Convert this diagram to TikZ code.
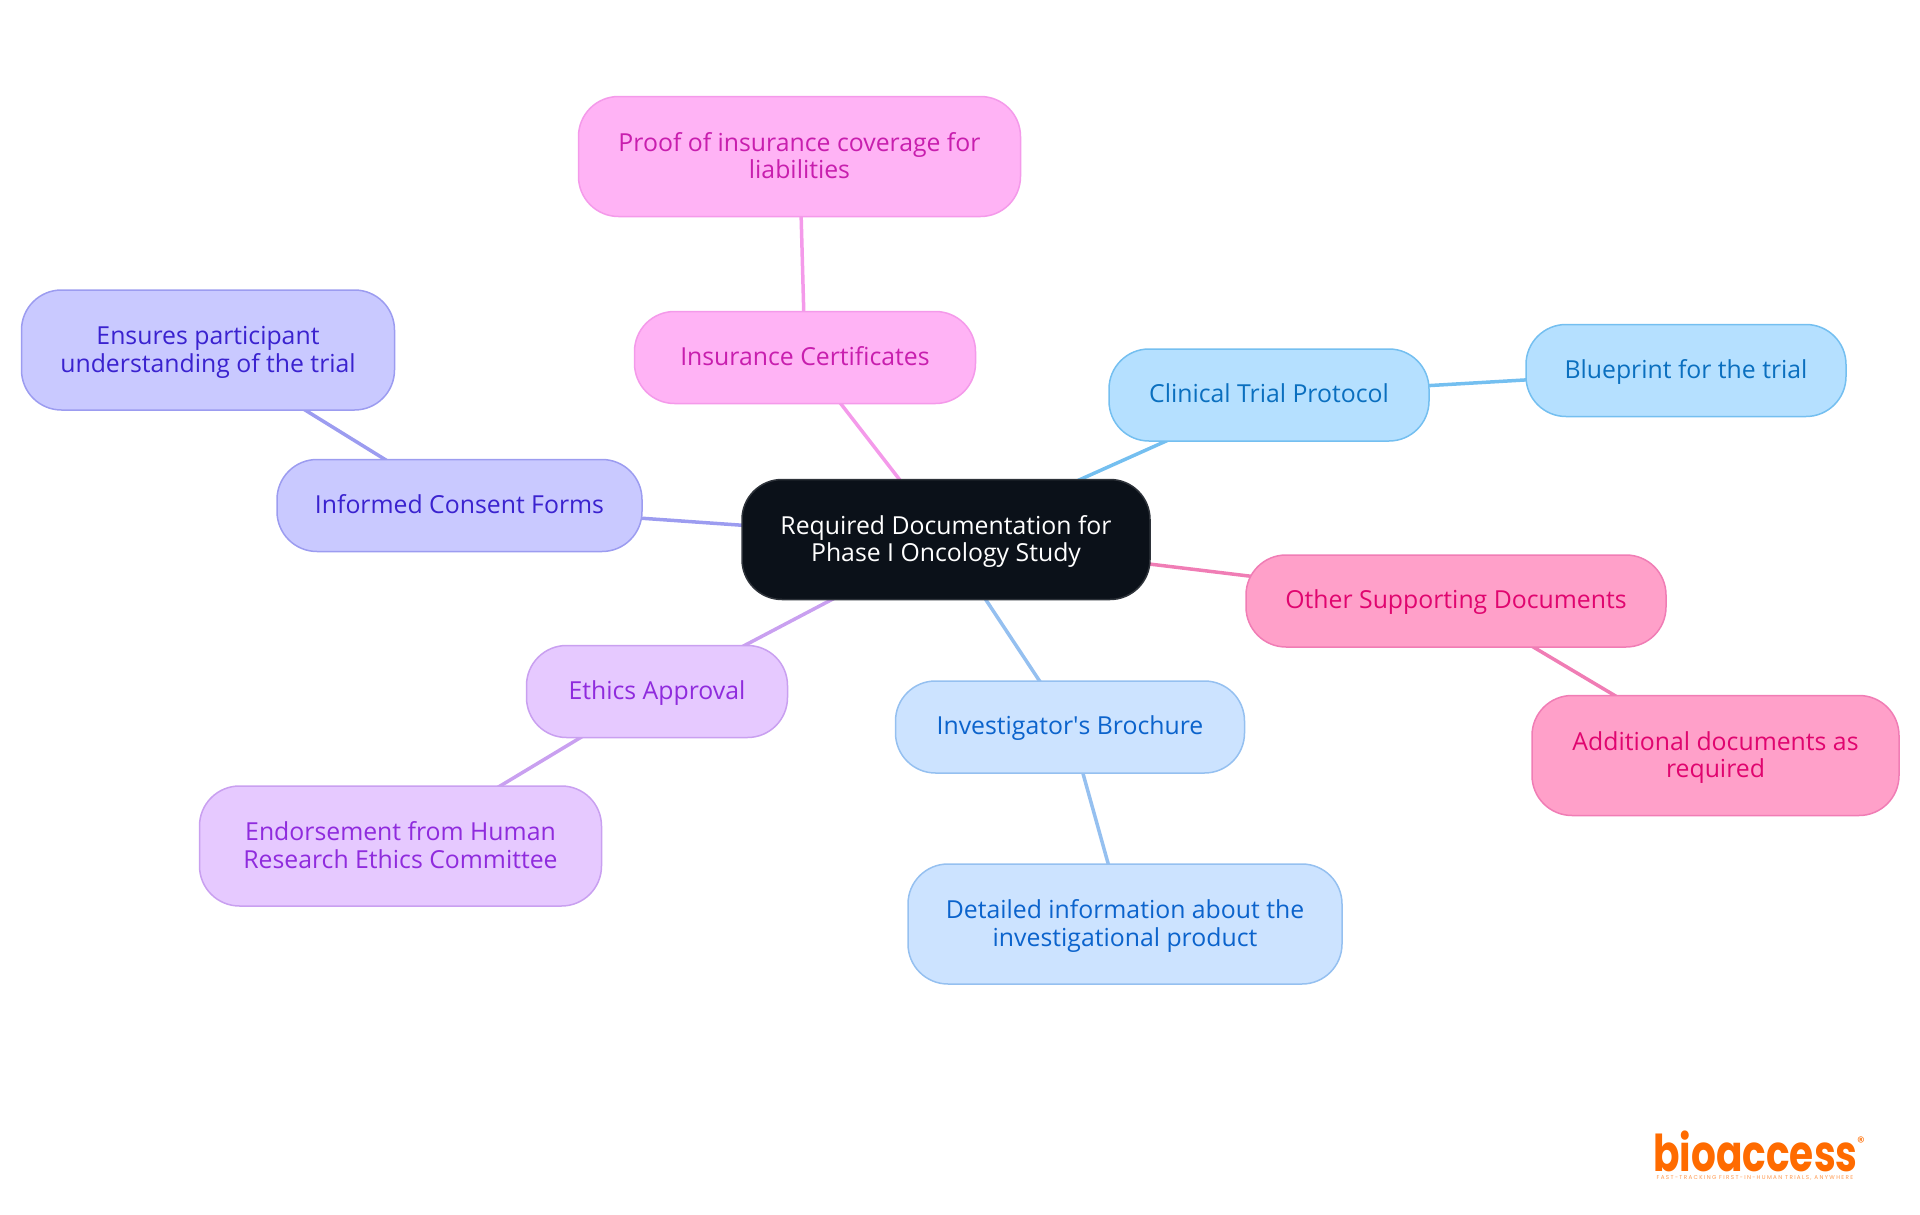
\documentclass[tikz,border=0pt]{standalone}
\usepackage{fontspec}
\setmainfont{Open Sans}
\newfontfamily\logofont{Poppins}
\newfontfamily\tagfont[LetterSpace=24]{Poppins}
\usetikzlibrary{backgrounds}
\definecolor{rootfill}{HTML}{0B1119}
\definecolor{rootline}{HTML}{2E333A}
\definecolor{insfill}{HTML}{FFB3F5}
\definecolor{insline}{HTML}{F49AEA}
\definecolor{instext}{HTML}{C81EAE}
\definecolor{proFill}{HTML}{B5E0FF}
\definecolor{proline}{HTML}{74BFF0}
\definecolor{protext}{HTML}{0A6FBF}
\definecolor{conFill}{HTML}{C9C9FF}
\definecolor{conline}{HTML}{9C9CF0}
\definecolor{context}{HTML}{3A22CF}
\definecolor{ethFill}{HTML}{E6C9FF}
\definecolor{ethline}{HTML}{C9A0F0}
\definecolor{ethtext}{HTML}{8F2BDD}
\definecolor{broFill}{HTML}{CCE3FF}
\definecolor{broline}{HTML}{95C0F0}
\definecolor{brotext}{HTML}{0B63CC}
\definecolor{othFill}{HTML}{FFA0C9}
\definecolor{othline}{HTML}{F07DB5}
\definecolor{othtext}{HTML}{E0056F}
\definecolor{logoorange}{HTML}{FF6B00}
\tikzstyle{topic}  = [draw,line width=1.5pt,rounded corners=40pt,align=center,inner sep=0pt,
                      font=\fontsize{24.8}{27.5}\selectfont]
\tikzstyle{small}  = [topic,minimum height=92pt,text height=21.5pt,text depth=6.5pt]
\tikzstyle{big}    = [topic,minimum height=120pt,text height=50pt,text depth=6pt]
\tikzstyle{root}   = [big,fill=rootfill,draw=rootline,text=white]
\tikzstyle{ins}    = [fill=insfill,draw=insline,text=instext]
\tikzstyle{pro}    = [fill=proFill,draw=proline,text=protext]
\tikzstyle{con}    = [fill=conFill,draw=conline,text=context]
\tikzstyle{eth}    = [fill=ethFill,draw=ethline,text=ethtext]
\tikzstyle{bro}    = [fill=broFill,draw=broline,text=brotext]
\tikzstyle{oth}    = [fill=othFill,draw=othline,text=othtext]
\tikzstyle{link}   = [line width=3.5pt]

\begin{document}
\begin{tikzpicture}[x=1pt,y=-1pt]
\useasboundingbox (0,0) rectangle (1920,1215);

\node[root,minimum width=408pt]      (R)  at (946,539.5)  {Required Documentation for\\Phase I Oncology Study};

\node[small,ins,minimum width=341pt] (I1) at (805,357.5)  {Insurance Certificates};
\node[big,ins,minimum width=442pt]   (I2) at (799.5,156.5) {Proof of insurance coverage for\\liabilities};
\node[small,pro,minimum width=320pt] (P1) at (1269,395)   {Clinical Trial Protocol};
\node[small,pro,minimum width=320pt] (P2) at (1686,370.5) {Blueprint for the trial};
\node[small,con,minimum width=365pt] (C1) at (459.5,505.5) {Informed Consent Forms};
\node[big,con,minimum width=373pt]   (C2) at (208,350)    {Ensures participant\\understanding of the trial};
\node[small,oth,minimum width=420pt] (O1) at (1456,601)   {Other Supporting Documents};
\node[big,oth,minimum width=367pt]   (O2) at (1715.5,755.5) {Additional documents as\\required};
\node[small,bro,minimum width=349pt] (B1) at (1070,727)   {Investigator\textquotesingle s Brochure};
\node[big,bro,minimum width=434pt]   (B2) at (1125,924)   {Detailed information about the\\investigational product};
\node[small,eth,minimum width=261pt] (E1) at (657,691.5)  {Ethics Approval};
\node[big,eth,minimum width=402pt]   (E2) at (400.5,846)  {Endorsement from Human\\Research Ethics Committee};

\node[text=logoorange,inner sep=0pt] (L1) at (1755.5,1151) {\scalebox{1}[1.3]{\logofont\fontsize{39}{39}\selectfont\bfseries bioaccess}};
\node[text=logoorange,inner sep=0pt] (L2) at (1861,1142) {\logofont\fontsize{15}{15}\selectfont\textregistered};
\node[text=logoorange!70,inner sep=0pt] (L3) at (1755,1178) {\tagfont\fontsize{5.6}{6}\selectfont FAST-TRACKING FIRST-IN-HUMAN TRIALS, ANYWHERE};

\begin{scope}[on background layer]
\path[link]
    (R.center) edge[insline] (I1.center)
    (I1.center) edge[insline] (I2.center)
    (R.center) edge[proline] (P1.center)
    (P1.center) edge[proline] (P2.center)
    (R.center) edge[conline] (C1.center)
    (C1.center) edge[conline] (C2.center)
    (R.center) edge[othline] (O1.center)
    (O1.center) edge[othline] (O2.center)
    (R.center) edge[broline] (B1.center)
    (B1.center) edge[broline] (B2.center)
    (R.center) edge[ethline] (E1.center)
    (E1.center) edge[ethline] (E2.center);
\end{scope}

\end{tikzpicture}
\end{document}
